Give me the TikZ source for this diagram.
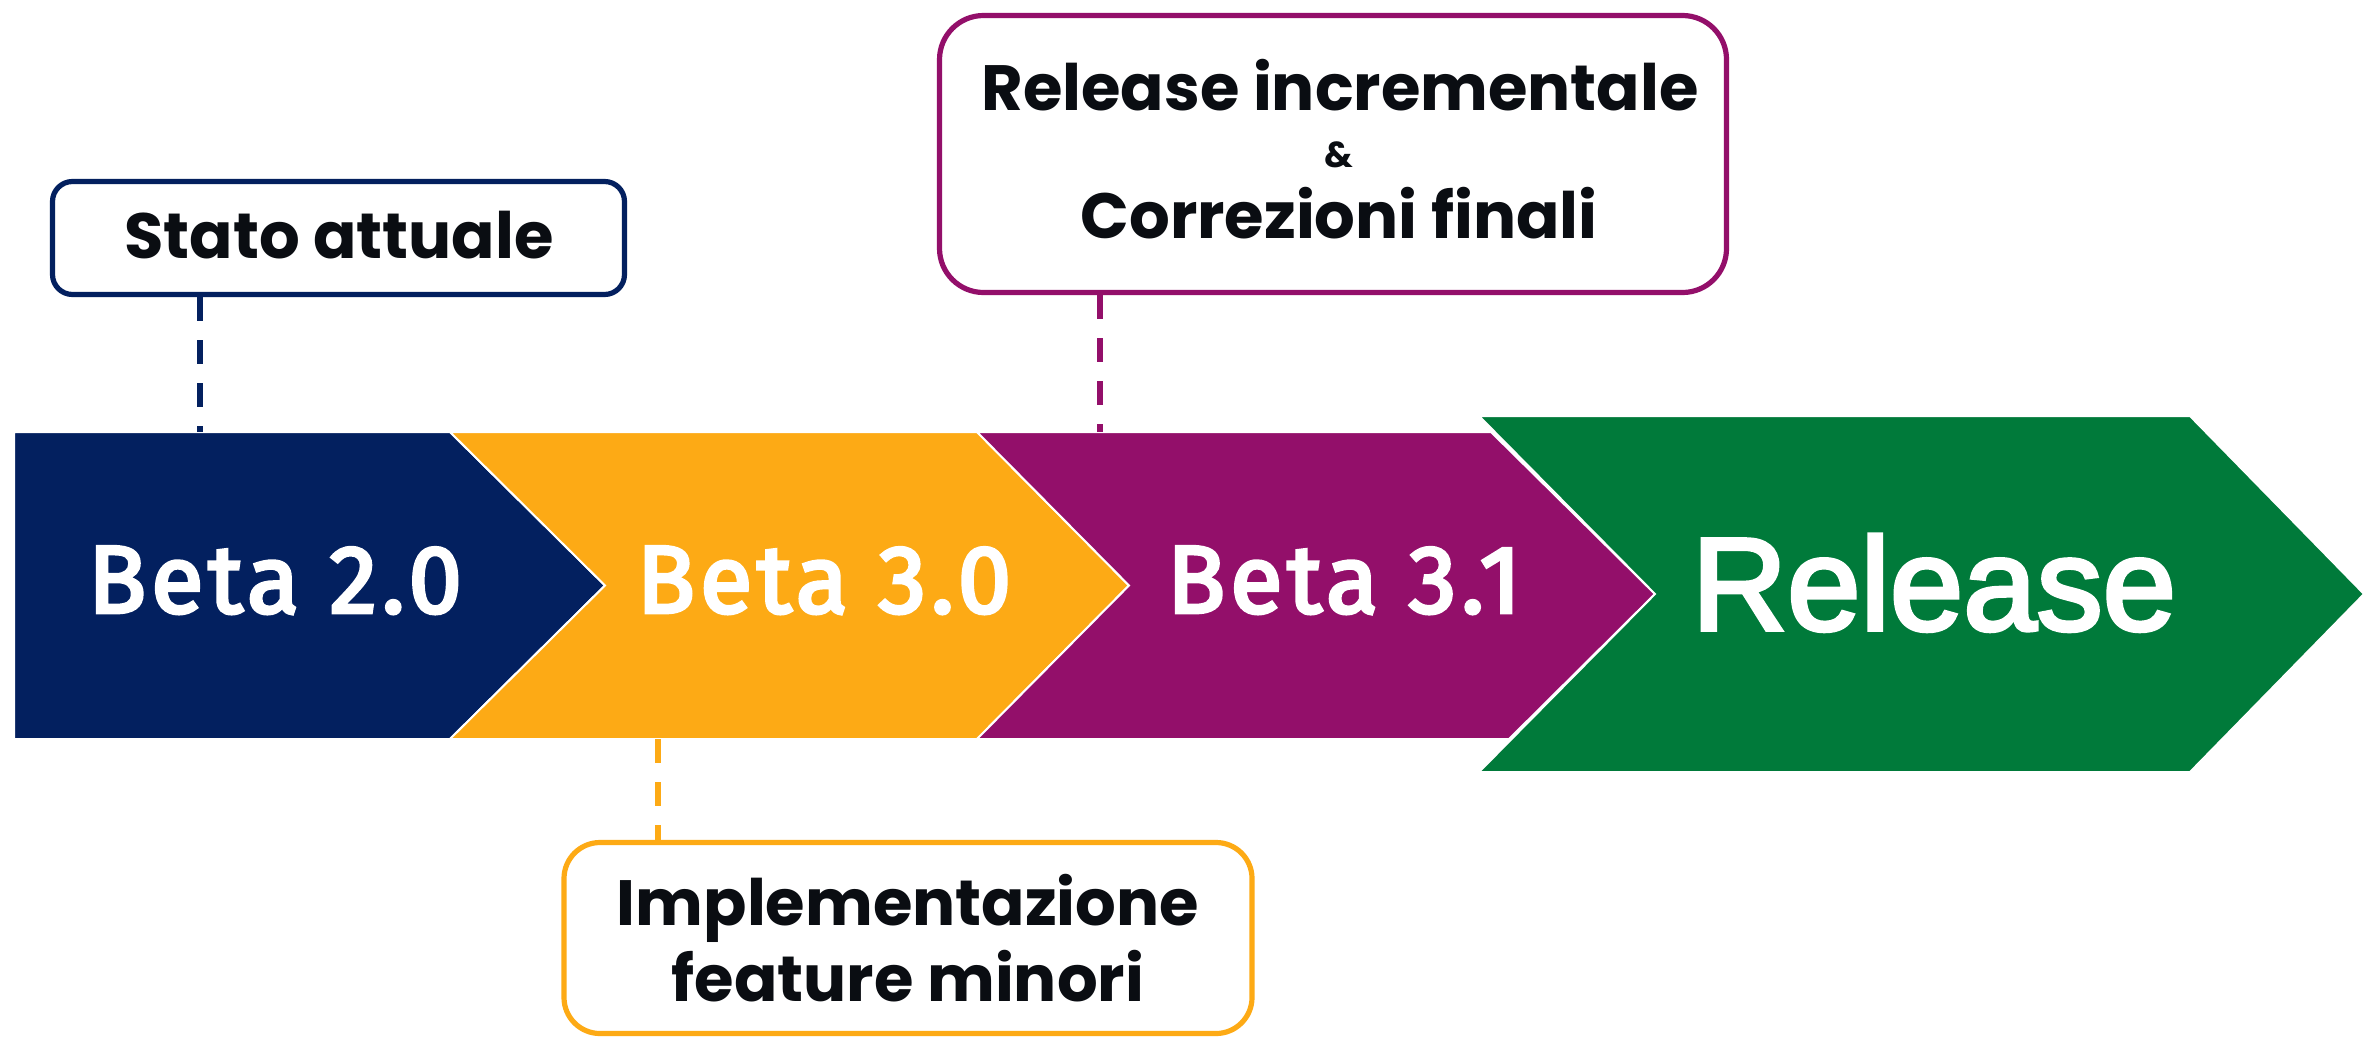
\documentclass[tikz,border=0pt]{standalone}
\usepackage{fontspec}
\newfontfamily\lblfont{Poppins}
\newfontfamily\betafont{Fira Sans}[FakeBold=3.5, LetterSpace=5]
\newfontfamily\relfont{Liberation Sans}[FakeBold=3]
\definecolor{cblue}{HTML}{03205F}
\definecolor{cyel}{HTML}{FDAA15}
\definecolor{cpur}{HTML}{930F6A}
\definecolor{cgrn}{HTML}{007A3A}
\definecolor{ctxt}{HTML}{0A0D12}
\tikzset{
  chev/.style={fill=#1, draw=white, line width=1pt, line join=miter},
  lblbox/.style={draw=#1, fill=white, line width=2.6pt, inner sep=0pt},
  lbltext/.style={font=\lblfont\bfseries\fontsize{32}{36}\selectfont, text=ctxt, anchor=base, inner sep=0pt},
  ampt/.style={font=\lblfont\bfseries\fontsize{18}{20}\selectfont, text=ctxt, anchor=base, inner sep=0pt},
  betatext/.style={font=\betafont\fontsize{48}{50}\selectfont, text=white, anchor=base, inner sep=0pt},
  reltext/.style={font=\relfont\fontsize{66}{70}\selectfont, text=white, anchor=base, inner sep=0pt},
  leader/.style={draw=#1, line width=3pt, dash pattern=on 12pt off 9.5pt}
}
\begin{document}
\begin{tikzpicture}[x=0.5pt, y=-0.5pt]
\fill[white] (0,0) rectangle (2364,1039);
\useasboundingbox (0,0) rectangle (2364,1039);

% chevrons
\path[chev=cblue] (14,432) -- (450,432) -- (605,585.5) -- (450,739) -- (14,739) -- cycle;
\path[chev=cyel] (450,432) -- (977,432) -- (1129,585.5) -- (977,739) -- (450,739) -- (605,585.5) -- cycle;
\path[chev=cpur] (977,432) -- (1491,432) -- (1655,594) -- (1509,739) -- (977,739) -- (1129,585.5) -- cycle;
\path[chev=cgrn] (1479,416) -- (2190,416) -- (2364,594) -- (2190,772) -- (1479,772) -- (1655,594) -- cycle;

% chevron texts
\node[betatext] (t1) at (275,612.7) {Beta 2.0};
\node[betatext] (t2) at (824,612.7) {Beta 3.0};
\node[betatext] (t3) at (1344,612.7) {Beta 3.1};
\node[reltext] (t4) at (1934,630) {Release};

% anchor points on chevrons
\coordinate (a1) at (200,432);
\coordinate (a2) at (657.7,739);
\coordinate (a3) at (1099.5,432);

% label boxes
\node[lblbox=cblue, rounded corners=10pt, minimum width=286pt, minimum height=56.5pt] (b1) at (338.5,238) {};
\node[lblbox=cpur, rounded corners=22pt, minimum width=393.5pt, minimum height=138.5pt] (b3) at (1333,154) {};
\node[lblbox=cyel, rounded corners=18pt, minimum width=344pt, minimum height=95.5pt] (b2) at (908,938) {};

% leaders
\draw[leader=cblue] (b1.south -| a1) -- (a1);
\draw[leader=cpur] (b3.south -| a3) -- (a3);
\draw[leader=cyel] (a2) -- (b2.north -| a2);

% label texts
\node[lbltext] (l1) at (339,258.7) {Stato attuale};
\node[lbltext] (l3a) at (1340,110) {Release incrementale};
\node[ampt] (l3b) at (1339,167) {\&};
\node[lbltext] (l3c) at (1339,238) {Correzioni finali};
\node[lbltext] (l2a) at (908,925.7) {Implementazione};
\node[lbltext] (l2b) at (908,1001.7) {feature minori};
\end{tikzpicture}
\end{document}
